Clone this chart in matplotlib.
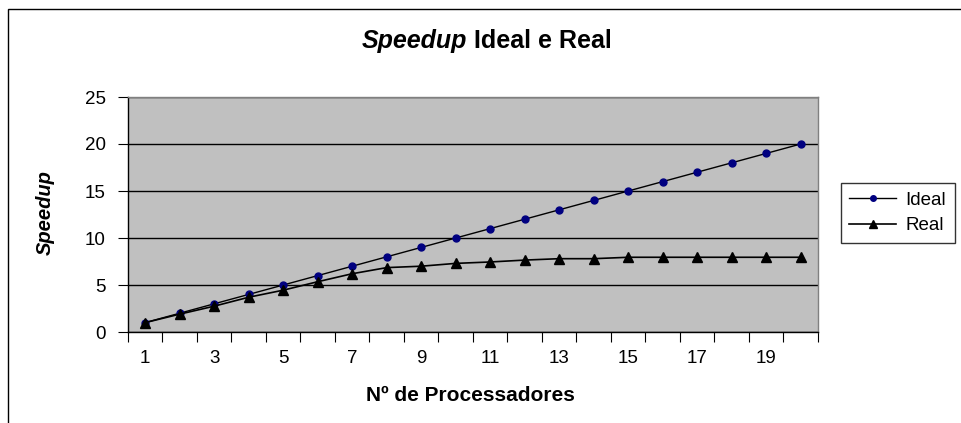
import matplotlib
matplotlib.use("Agg")
import matplotlib.pyplot as plt
from matplotlib.patches import Rectangle

plt.rcParams['font.family'] = ['Liberation Sans', 'DejaVu Sans']

processadores = list(range(1, 21))
ideal = [1, 2, 3, 4, 5, 6, 7, 8, 9, 10, 11, 12, 13, 14, 15, 16, 17, 18, 19, 20]
real = [1.0, 1.9, 2.75, 3.7, 4.45, 5.35, 6.2, 6.85, 7.0, 7.3, 7.45, 7.65, 7.8, 7.8,
        7.95, 7.95, 7.95, 7.95, 7.95, 7.95]
xtick_labels = ['1', '3', '5', '7', '9', '11', '13', '15', '17', '19']

fig = plt.figure(figsize=(9.62, 4.23), dpi=100)
ax = fig.add_axes([128/962, 1-332/423, 690/962, 235/423])
ax.set_facecolor('#c0c0c0')

ax.plot(processadores, ideal, color='black', lw=1, marker='o', ms=5,
        mfc='#000080', mec='#000080', label='Ideal')
ax.plot(processadores, real, color='black', lw=1.2, marker='^', ms=7,
        mfc='black', mec='black', label='Real')

ax.set_xlim(0.5, 20.5)
ax.set_ylim(0, 25)
ax.set_yticks([0, 5, 10, 15, 20, 25])
ax.yaxis.grid(True, color='black', lw=1)
ax.set_axisbelow(True)

# category axis: ticks between categories, labels on odd ones
ax.set_xticks([i + 0.5 for i in range(0, 21)])
ax.set_xticklabels([])
ax.set_xticks([int(t) for t in xtick_labels], minor=True)
ax.set_xticklabels(xtick_labels, minor=True)
ax.tick_params(axis='x', which='minor', length=0, pad=13, labelsize=13.5)
ax.tick_params(axis='x', which='major', length=7, direction='out', color='black')
ax.tick_params(axis='y', length=7, direction='out', labelsize=13.5, pad=9)

for s in ax.spines.values():
    s.set_color('#808080')
    s.set_linewidth(1)
ax.spines['left'].set_color('black')
ax.spines['bottom'].set_color('black')

fig.text(467/962, 1-41/423, 'Speedup', fontsize=18, fontweight='bold', style='italic',
         ha='right', va='center')
fig.text(467/962, 1-41/423, ' Ideal e Real', fontsize=18, fontweight='bold',
         ha='left', va='center')
fig.text(470/962, 1-395/423, 'Nº de Processadores', fontsize=15, fontweight='bold',
         ha='center', va='center')
fig.text(45/962, 1-213/423, 'Speedup', fontsize=14.5, fontweight='bold', style='italic',
         rotation=90, ha='center', va='center')

leg = fig.legend(loc='upper left', bbox_to_anchor=(841/962, 1-183/423),
                 fontsize=13.5, frameon=True, fancybox=False, edgecolor='black',
                 borderaxespad=0, handlelength=2.5, handletextpad=0.5,
                 borderpad=0.45, labelspacing=0.45, markerscale=0.8)
leg.get_frame().set_linewidth(1)

fig.add_artist(Rectangle((8/962, -0.1), 1.0, 1.1 - 9/423, transform=fig.transFigure,
                         fill=False, edgecolor='black', lw=1, clip_on=False))

fig.savefig('out.png', dpi=100)
